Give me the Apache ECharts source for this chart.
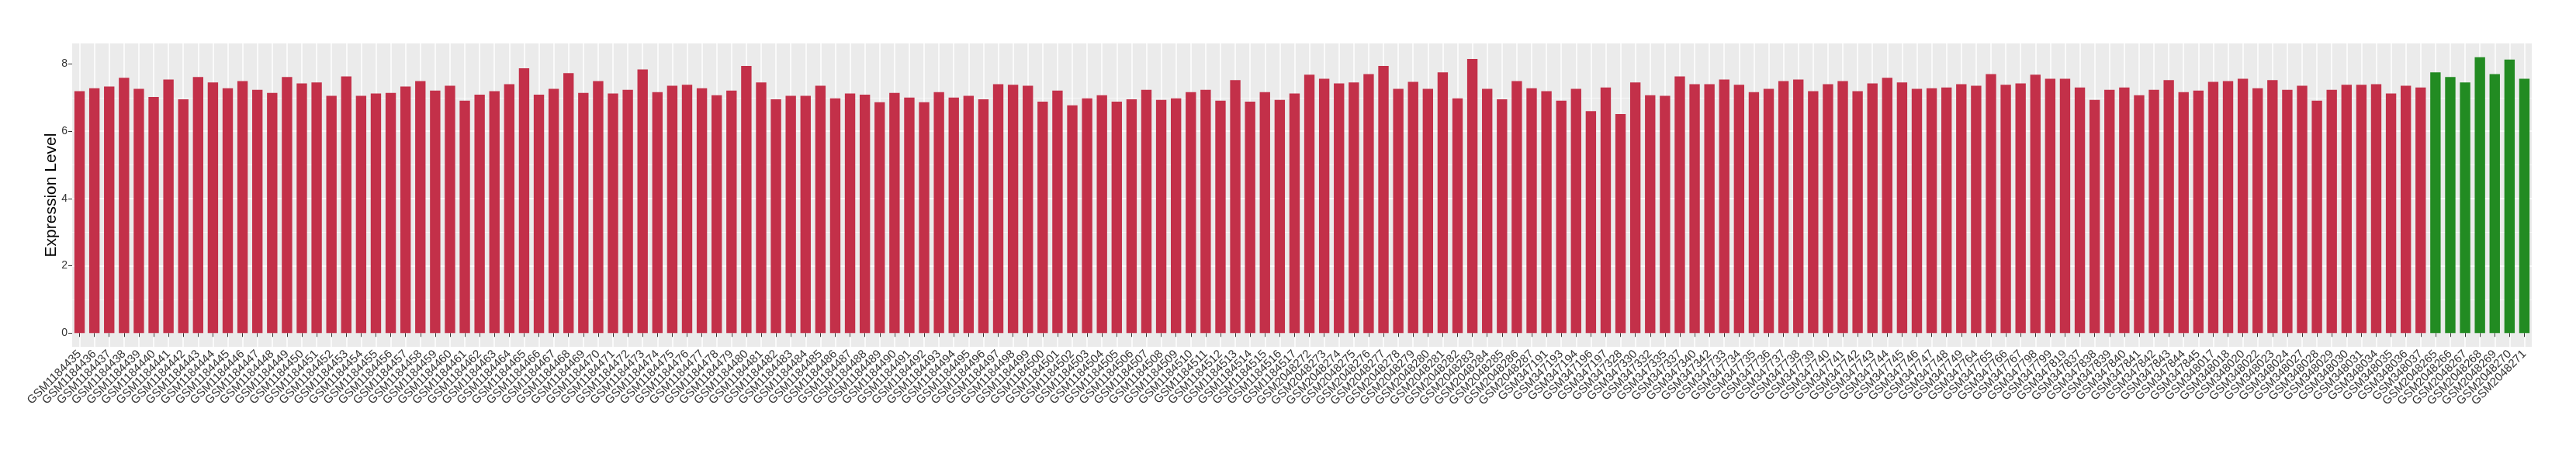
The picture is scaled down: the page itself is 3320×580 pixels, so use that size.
<!DOCTYPE html>
<html>
<head>
<meta charset="utf-8">
<script src="https://cdn.jsdelivr.net/npm/echarts@6/dist/echarts.min.js"></script>
<style>
  html, body { margin: 0; padding: 0; background: #fff; }
  #chart { width: 3320px; height: 580px; }
</style>
</head>
<body>
<div id="chart"></div>
<script>
// sample ids, in plot order
const samples = [
  'GSM1184435', 'GSM1184436', 'GSM1184437', 'GSM1184438', 'GSM1184439', 'GSM1184440', 'GSM1184441', 'GSM1184442', 'GSM1184443', 'GSM1184444',
  'GSM1184445', 'GSM1184446', 'GSM1184447', 'GSM1184448', 'GSM1184449', 'GSM1184450', 'GSM1184451', 'GSM1184452', 'GSM1184453', 'GSM1184454',
  'GSM1184455', 'GSM1184456', 'GSM1184457', 'GSM1184458', 'GSM1184459', 'GSM1184460', 'GSM1184461', 'GSM1184462', 'GSM1184463', 'GSM1184464',
  'GSM1184465', 'GSM1184466', 'GSM1184467', 'GSM1184468', 'GSM1184469', 'GSM1184470', 'GSM1184471', 'GSM1184472', 'GSM1184473', 'GSM1184474',
  'GSM1184475', 'GSM1184476', 'GSM1184477', 'GSM1184478', 'GSM1184479', 'GSM1184480', 'GSM1184481', 'GSM1184482', 'GSM1184483', 'GSM1184484',
  'GSM1184485', 'GSM1184486', 'GSM1184487', 'GSM1184488', 'GSM1184489', 'GSM1184490', 'GSM1184491', 'GSM1184492', 'GSM1184493', 'GSM1184494',
  'GSM1184495', 'GSM1184496', 'GSM1184497', 'GSM1184498', 'GSM1184499', 'GSM1184500', 'GSM1184501', 'GSM1184502', 'GSM1184503', 'GSM1184504',
  'GSM1184505', 'GSM1184506', 'GSM1184507', 'GSM1184508', 'GSM1184509', 'GSM1184510', 'GSM1184511', 'GSM1184512', 'GSM1184513', 'GSM1184514',
  'GSM1184515', 'GSM1184516', 'GSM1184517',
  'GSM2048272', 'GSM2048273', 'GSM2048274', 'GSM2048275', 'GSM2048276', 'GSM2048277', 'GSM2048278', 'GSM2048279', 'GSM2048280', 'GSM2048281',
  'GSM2048282', 'GSM2048283', 'GSM2048284', 'GSM2048285', 'GSM2048286', 'GSM2048287',
  'GSM347191', 'GSM347193', 'GSM347194', 'GSM347196', 'GSM347197',
  'GSM347328', 'GSM347330', 'GSM347332', 'GSM347335', 'GSM347337', 'GSM347340', 'GSM347342',
  'GSM347733', 'GSM347734', 'GSM347735', 'GSM347736', 'GSM347737', 'GSM347738', 'GSM347739', 'GSM347740', 'GSM347741', 'GSM347742',
  'GSM347743', 'GSM347744', 'GSM347745', 'GSM347746', 'GSM347747', 'GSM347748', 'GSM347749',
  'GSM347764', 'GSM347765', 'GSM347766', 'GSM347767', 'GSM347798', 'GSM347799', 'GSM347819',
  'GSM347837', 'GSM347838', 'GSM347839', 'GSM347840', 'GSM347841', 'GSM347842', 'GSM347843', 'GSM347844', 'GSM347845',
  'GSM348017', 'GSM348018', 'GSM348020', 'GSM348022', 'GSM348023', 'GSM348024', 'GSM348027', 'GSM348028', 'GSM348029', 'GSM348030',
  'GSM348031', 'GSM348034', 'GSM348035', 'GSM348036', 'GSM348037',
  'GSM2048265', 'GSM2048266', 'GSM2048267', 'GSM2048268', 'GSM2048269', 'GSM2048270', 'GSM2048271'
]

// expression level for each sample (same order)
const expression = [
  7.19, 7.28, 7.33, 7.59, 7.26, 7.02, 7.54, 6.95, 7.61, 7.45, 7.28, 7.49, 7.23, 7.14, 7.61, 7.42, 7.45,
  7.05, 7.63, 7.05, 7.12, 7.14, 7.33, 7.49, 7.21, 7.35, 6.91, 7.09, 7.19, 7.40, 7.87, 7.09, 7.26,
  7.73, 7.14, 7.49, 7.12, 7.23, 7.84, 7.16, 7.35, 7.38, 7.28, 7.07, 7.21, 7.94, 7.45, 6.95, 7.05, 7.05,
  7.35, 6.98, 7.12, 7.09, 6.86, 7.14, 7.00, 6.86, 7.16, 7.00, 7.05, 6.95, 7.40, 7.38, 7.35, 6.88,
  7.21, 6.77, 6.98, 7.07, 6.88, 6.95, 7.23, 6.93, 6.98, 7.16, 7.23, 6.91, 7.52, 6.88, 7.16, 6.93, 7.12,
  7.68, 7.56, 7.42, 7.45, 7.70, 7.94, 7.26, 7.47, 7.26, 7.75, 6.98, 8.15, 7.26, 6.95, 7.49, 7.28,
  7.19, 6.91, 7.26, 6.60, 7.30, 6.51, 7.45, 7.07, 7.05, 7.63, 7.40, 7.40, 7.54, 7.38, 7.16, 7.26, 7.49,
  7.54, 7.19, 7.40, 7.49, 7.19, 7.42, 7.59, 7.45, 7.26, 7.28, 7.30, 7.40, 7.35, 7.70, 7.38, 7.42,
  7.68, 7.56, 7.56, 7.30, 6.93, 7.23, 7.30, 7.07, 7.23, 7.52, 7.16, 7.21, 7.47, 7.49, 7.56, 7.28, 7.52,
  7.23, 7.35, 6.91, 7.23, 7.38, 7.38, 7.40, 7.12, 7.35, 7.30,
  7.75, 7.61, 7.45, 8.20, 7.70, 8.13, 7.56
]

// samples drawn in green
const controlSamples = ['GSM2048265', 'GSM2048266', 'GSM2048267', 'GSM2048268', 'GSM2048269', 'GSM2048270', 'GSM2048271']

const yTicks = [0, 2, 4, 6, 8]

const chart = echarts.init(document.getElementById('chart'), null, { renderer: 'canvas' })

const barData = expression.map((v, i) => ({
  value: v,
  itemStyle: { color: controlSamples.includes(samples[i]) ? '#228B22' : '#C33049' },
}))

chart.setOption({
  animation: false,
  backgroundColor: '#ffffff',
  textStyle: { fontFamily: 'Liberation Sans, Arial, sans-serif' },
  grid: {
    left: 93,
    right: 57,
    top: 56,
    bottom: 133,
    show: true,
    backgroundColor: '#EBEBEB',
    borderWidth: 0,
  },
  xAxis: {
    type: 'category',
    data: samples,
    boundaryGap: true,
    axisLine: { show: false },
    axisTick: { show: true, alignWithLabel: true, interval: 0, length: 5, lineStyle: { color: '#333333', width: 1 } },
    axisLabel: { interval: 0, rotate: 45, margin: 7, fontSize: 15, color: '#333333' },
    splitLine: { show: true, interval: 0, alignWithLabel: true, lineStyle: { color: '#ffffff', width: 1.5 } },
  },
  yAxis: {
    type: 'value',
    min: -0.41,
    max: 8.61,
    name: 'Expression Level',
    nameLocation: 'middle',
    nameRotate: 90,
    nameGap: 16,
    nameMoveOverlap: false,
    nameTextStyle: { fontSize: 21, fontWeight: 'normal', color: '#000000' },
    axisLine: { show: false },
    axisTick: { show: true, length: 5, customValues: yTicks, lineStyle: { color: '#333333', width: 1 } },
    axisLabel: { customValues: yTicks, margin: 6, fontSize: 14, color: '#333333' },
    splitLine: { show: true, showMinLine: false, showMaxLine: false, lineStyle: { color: '#ffffff', width: 1.5 } },
    minorTick: { show: false, splitNumber: 2 },
    minorSplitLine: { show: true, lineStyle: { color: '#F7F7F7', width: 1 } },
  },
  series: [
    {
      type: 'bar',
      data: barData,
      barWidth: '70%',
    },
  ],
})
</script>
</body>
</html>
